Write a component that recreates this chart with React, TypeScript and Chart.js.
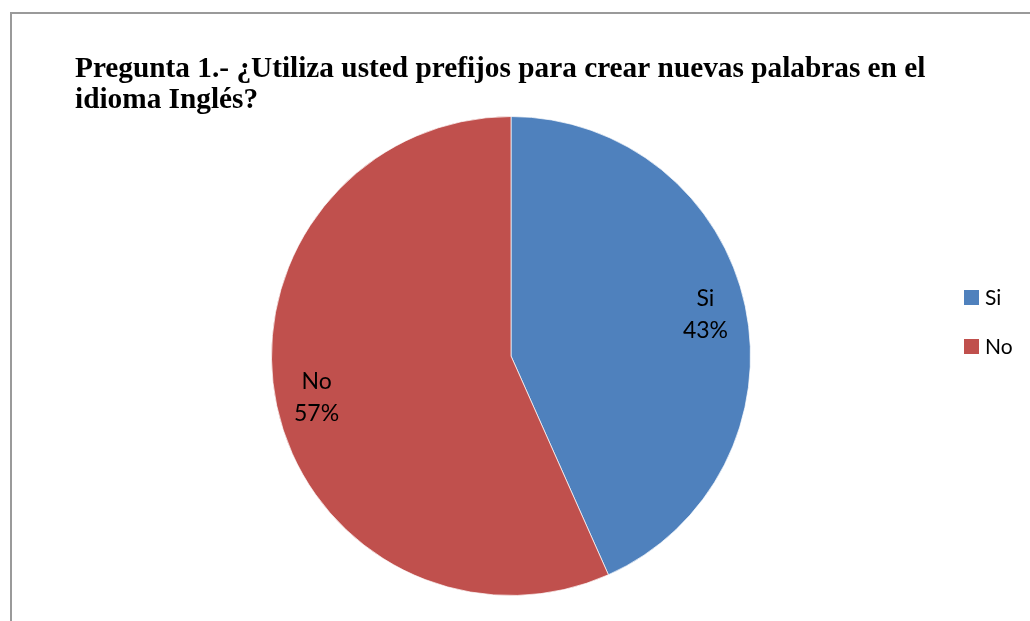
import { useEffect, useRef } from 'react'
import { Chart, registerables, Plugin } from 'chart.js'

Chart.register(...registerables)

const titleLines = [
  'Pregunta 1.- ¿Utiliza usted prefijos para crear nuevas palabras en el',
  'idioma Inglés?',
]
const answers = ['Si', 'No']
const counts = [13, 17]
const sliceColors = ['#4F81BD', '#C0504D']

const LABEL_FONT = '23px Lato, "Liberation Sans", sans-serif'

// title drawn at top-left, two lines like the original Word/Excel chart
const titlePlugin: Plugin<'pie'> = {
  id: 'leftTitle',
  afterDraw(chart) {
    const ctx = chart.ctx
    ctx.save()
    ctx.fillStyle = '#000'
    ctx.font = 'bold 29.3px "Liberation Serif", "Times New Roman", serif'
    ctx.textBaseline = 'alphabetic'
    ctx.textAlign = 'left'
    titleLines.forEach((line, i) => ctx.fillText(line, 75, 77 + i * 31))
    ctx.restore()
  },
}

// "Si / 43%" labels inside the slices
const sliceLabels: Plugin<'pie'> = {
  id: 'sliceLabels',
  afterDatasetsDraw(chart) {
    const ctx = chart.ctx
    const meta = chart.getDatasetMeta(0)
    const total = counts.reduce((a, b) => a + b, 0)
    ctx.save()
    ctx.fillStyle = '#000'
    ctx.font = LABEL_FONT
    ctx.textAlign = 'center'
    ctx.textBaseline = 'middle'
    meta.data.forEach((el: any, i) => {
      const { x, y, startAngle, endAngle, outerRadius } = el.getProps(
        ['x', 'y', 'startAngle', 'endAngle', 'outerRadius'], true)
      const mid = (startAngle + endAngle) / 2
      const r = outerRadius * 0.83
      const cx = x + Math.cos(mid) * r
      const cy = y + Math.sin(mid) * r
      ctx.fillText(answers[i], cx, cy - 16)
      ctx.fillText(`${Math.round((counts[i] / total) * 100)}%`, cx, cy + 16)
    })
    ctx.restore()
  },
}

// legend on the right, square markers
const sideLegend: Plugin<'pie'> = {
  id: 'sideLegend',
  afterDraw(chart) {
    const ctx = chart.ctx
    const colors = chart.data.datasets[0].backgroundColor as string[]
    ctx.save()
    ctx.font = '21px Lato, "Liberation Sans", sans-serif'
    ctx.textBaseline = 'middle'
    ctx.textAlign = 'left'
    ;(chart.data.labels as string[]).forEach((lab, i) => {
      const top = 290 + i * 49
      ctx.fillStyle = colors[i]
      ctx.fillRect(964, top, 15, 15)
      ctx.fillStyle = '#000'
      ctx.fillText(lab, 985, top + 8)
    })
    ctx.restore()
  },
}

export default function App() {
  const canvasRef = useRef<HTMLCanvasElement>(null)
  const chartRef = useRef<Chart<'pie'> | null>(null)

  useEffect(() => {
    document.body.style.margin = '0'
    if (!canvasRef.current) return
    chartRef.current?.destroy()

    chartRef.current = new Chart(canvasRef.current, {
      type: 'pie',
      data: {
        labels: answers,
        datasets: [{
          data: counts,
          backgroundColor: sliceColors,
          borderColor: 'rgba(255,255,255,0.7)',
          borderWidth: 1,
        }],
      },
      options: {
        animation: false,
        responsive: false,
        rotation: 0,
        layout: { padding: { top: 116, bottom: 25, left: 271, right: 279 } },
        plugins: {
          legend: { display: false },
          title: { display: false },
          tooltip: { enabled: false },
        },
      },
      plugins: [titlePlugin, sliceLabels, sideLegend],
    })

    return () => {
      chartRef.current?.destroy()
      chartRef.current = null
    }
  }, [])

  return (
    <div style={{ position: 'relative', width: 1030, height: 621, overflow: 'hidden', background: '#fff' }}>
      <div style={{
        position: 'absolute', left: 10, top: 12, width: 1040, height: 700,
        borderLeft: '2px solid #9a9a9a', borderTop: '2px solid #9a9a9a',
      }} />
      <canvas ref={canvasRef} width={1030} height={621}
        style={{ position: 'absolute', left: 0, top: 0, width: 1030, height: 621 }} />
    </div>
  )
}
